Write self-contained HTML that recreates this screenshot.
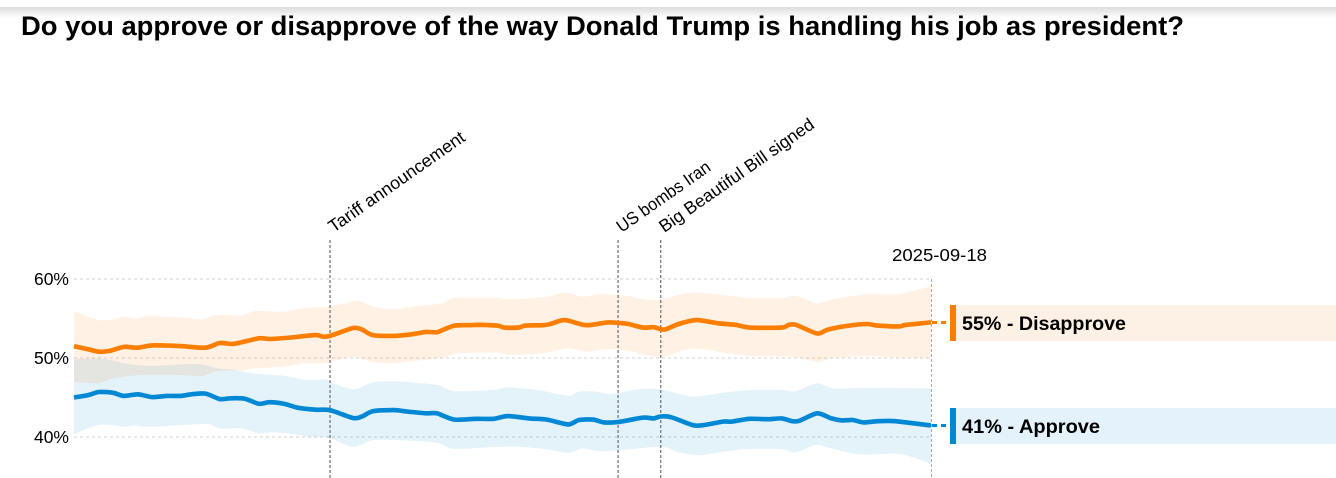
<!DOCTYPE html>
<html lang="en">
<head>
<meta charset="utf-8">
<title>Trump approval</title>
<style>
html,body{margin:0;padding:0;background:#fff;width:1336px;height:478px;overflow:hidden}
svg{display:block;font-family:"Liberation Sans",sans-serif}
</style>
</head>
<body>
<svg id="chart" width="1336" height="478" viewBox="0 0 1336 478" xmlns="http://www.w3.org/2000/svg">
<defs>
<linearGradient id="topShade" x1="0" y1="0" x2="0" y2="1">
<stop offset="0" stop-color="#dcdcdc"/>
<stop offset="1" stop-color="#ffffff"/>
</linearGradient>
</defs>
<rect x="0" y="7" width="1336" height="11" fill="url(#topShade)"/>
<text x="21" y="35" font-size="27" font-weight="700" fill="#000" textLength="1163" lengthAdjust="spacingAndGlyphs">Do you approve or disapprove of the way Donald Trump is handling his job as president?</text>
<g id="grid"></g>
<g id="bands"></g>
<g id="events"></g>
<g id="lines"></g>
<text x="892" y="261" font-size="17.5" fill="#000" textLength="95" lengthAdjust="spacingAndGlyphs">2025-09-18</text>
<rect x="956" y="305" width="380" height="36" fill="#fdf1e5"/>
<rect x="950" y="305" width="6" height="36" fill="#fb7e00"/>
<text x="962" y="330" font-size="19.5" font-weight="700" fill="#000" textLength="164" lengthAdjust="spacingAndGlyphs">55% - Disapprove</text>
<rect x="956" y="408" width="380" height="36" fill="#e4f3fb"/>
<rect x="950" y="408" width="6" height="36" fill="#0088d4"/>
<text x="962" y="433" font-size="19.5" font-weight="700" fill="#000" textLength="138" lengthAdjust="spacingAndGlyphs">41% - Approve</text>
</svg>
<script>
var tickValues = [40, 50, 60];
var tickLabels = ['40%', '50%', '60%'];
var eventDays = [72, 153, 165];
var eventLabels = ['Tariff announcement', 'US bombs Iran', 'Big Beautiful Bill signed'];
var lastDay = 241;

var disapproveDays = [0,4,7,10,14,18,22,30,37,41,45,52,55,61,68,70,72,78.5,81,84,90,95,99,102,104,107,111,114,119,121,125,127,132,134,138,144,150,154,156,160,163,166,170,175,181,186,190,199,201,203,209,212,218,223,226,232,234,241];
var disapproveValues = [51.5,51.1,50.8,50.9,51.4,51.3,51.6,51.5,51.3,51.9,51.8,52.5,52.4,52.6,52.9,52.7,52.8,53.8,53.6,52.9,52.8,53,53.3,53.25,53.6,54.1,54.15,54.2,54.1,53.85,53.85,54.1,54.15,54.3,54.8,54.15,54.5,54.4,54.3,53.85,53.9,53.6,54.3,54.8,54.4,54.2,53.85,53.85,54.2,54.2,53.1,53.6,54.1,54.3,54.1,54,54.2,54.5];

var approveDays = [0,4,7,11,14,18,22,26,30,33,37,41,44,48,52,55,59,63,68,72,78.5,81,84,90,94,99,102,107,113,118,122,128,133,139,142,146,149,153,160,163,165,168,174,177,182.5,185,190,195,199,202,204,209,213,216,219,222,226,231,241];
var approveValues = [45,45.3,45.7,45.6,45.2,45.4,45.05,45.2,45.2,45.4,45.5,44.8,44.9,44.85,44.2,44.4,44.2,43.7,43.45,43.4,42.4,42.6,43.25,43.4,43.2,43,43,42.2,42.3,42.3,42.65,42.35,42.2,41.6,42.15,42.2,41.85,41.9,42.45,42.35,42.6,42.5,41.5,41.5,41.95,41.95,42.3,42.25,42.35,42,42.05,43,42.35,42.1,42.15,41.85,42,42,41.45];

var disapproveUpperDays = [0,7,11,14,18,21,30,36,40,47,51,59,64,69,72,79,80.5,85,91,97,103.5,107,119,122,133,138,143,148,156,160,165,170,175,181,190,199,202,205,209,213,223,232,241];
var disapproveUpperValues = [55.9,54.8,54.9,55.2,55,55.3,55.15,54.9,55.45,55.35,55.95,55.85,56.3,56.4,56.5,57.2,57.2,56.4,56.2,56.6,56.9,57.6,57.6,57.4,57.75,58.3,57.75,58.05,57.85,57.4,57.4,58,58.3,58.05,57.6,57.6,57.9,57.6,56.9,57.4,58.1,58.1,59.1];

var disapproveLowerDays = [0,7,11,19,30,36,40,47,51,59,64,69,72,78.5,84,89,95,104,108,119,122,132,139,144,150,156,160,166,170,175,184,190,202,209,213,223,232,241];
var disapproveLowerValues = [47,46.8,47.4,47.85,47.85,47.7,48.35,48.4,48.7,48.9,49.3,49.3,49.5,50.15,49.5,49.3,49.6,50.05,50.6,50.7,50.4,50.6,51.25,50.8,51.1,50.9,50.4,50.15,50.8,51.2,50.6,50.25,50.15,49.5,49.95,50.25,50.05,49.95];

var approveUpperDays = [0,8,15,22,35,40,45,51,59,65.5,71,72,78.5,84,90,102,107,118,122,131,139,142,147,151,159,165,174,182.5,190,199,203,209,213.5,223,241];
var approveUpperValues = [49.85,49.9,49.25,49,49.25,48.7,48.5,48,47.75,47.2,47.3,47,46.05,46.9,47.05,46.6,45.8,45.95,46.3,45.9,45.2,45.75,45.75,45.45,46.05,46.05,45.1,45.6,45.95,45.95,45.8,46.8,46.15,46.2,46.15];

var approveLowerDays = [0,6.5,11,14,17,22,37,41,47,52,55,60,66,72,78.5,84,91,102,107,122,132,139,143,149,165,170,176,182,190,199,202,204,209,213,221,230,234,241];
var approveLowerValues = [40.35,41.5,41.5,41.3,41.45,41.3,41.65,41.05,41.1,40.45,40.6,40.45,40.05,39.85,38.75,39.6,39.6,39.3,38.5,38.8,38.5,38,38.55,38.2,38.75,38.05,37.7,38.1,38.5,38.45,38.05,38.2,39,38.55,37.8,37.9,37.7,36.65];

var SVG_NS = 'http://www.w3.org/2000/svg';
var plotLeft = 74;
var plotRight = 931;
var plotBottom = 478;
var grid = document.getElementById('grid');
var bands = document.getElementById('bands');
var events = document.getElementById('events');
var lines = document.getElementById('lines');

function xScale(day) {
  return plotLeft + day / lastDay * (plotRight - plotLeft);
}
function yScale(value) {
  return 358 - (value - 50) * 7.9;
}
function toPoints(days, values) {
  return days.map(function (d, i) {
    return [xScale(d), yScale(values[i])];
  });
}
/* Smooth curve through the points, returned as bezier segments after the first point. */
function curveSegments(p) {
  var k = 0.13;
  var out = '';
  for (var i = 0; i < p.length - 1; i++) {
    var a = p[Math.max(i - 1, 0)];
    var b = p[i];
    var c = p[i + 1];
    var d = p[Math.min(i + 2, p.length - 1)];
    out += ' C' + (b[0] + (c[0] - a[0]) * k).toFixed(1) + ' ' + (b[1] + (c[1] - a[1]) * k).toFixed(1) +
      ' ' + (c[0] - (d[0] - b[0]) * k).toFixed(1) + ' ' + (c[1] - (d[1] - b[1]) * k).toFixed(1) +
      ' ' + c[0].toFixed(1) + ' ' + c[1].toFixed(1);
  }
  return out;
}
function make(tag, attrs) {
  var el = document.createElementNS(SVG_NS, tag);
  Object.keys(attrs).forEach(function (k) { el.setAttribute(k, attrs[k]); });
  return el;
}

tickValues.forEach(function (v, i) {
  var rule = make('line', {x1: plotLeft, x2: plotRight, y1: yScale(v), y2: yScale(v), stroke: '#cfcfcf', 'stroke-width': 1, 'stroke-dasharray': '3 3'});
  
  
  grid.appendChild(rule);
  var label = make('text', {x: 69, y: yScale(v) + 6, 'text-anchor': 'end', 'font-size': 17.5, fill: '#000'});
  
  
  label.textContent = tickLabels[i];
  grid.appendChild(label);
});

var endRule = make('line', {x1: plotRight + 0.5, x2: plotRight + 0.5, y1: 279, y2: plotBottom, stroke: '#a8a8a8', 'stroke-width': 1, 'stroke-dasharray': '3 2'});


grid.appendChild(endRule);

function addBand(name, color, opacity, upDays, upValues, lowDays, lowValues) {
  var top = toPoints(upDays, upValues);
  var bottom = toPoints(lowDays, lowValues).reverse();
  var d = 'M' + top[0][0].toFixed(1) + ' ' + top[0][1].toFixed(1) + curveSegments(top) +
    ' L' + bottom[0][0].toFixed(1) + ' ' + bottom[0][1].toFixed(1) + curveSegments(bottom) + ' Z';
  var band = make('path', {d: d, fill: color, 'fill-opacity': opacity});
  
  
  bands.appendChild(band);
}
addBand('disapprove-band', '#ff7f00', 0.11, disapproveUpperDays, disapproveUpperValues, disapproveLowerDays, disapproveLowerValues);
addBand('approve-band', '#0088d4', 0.105, approveUpperDays, approveUpperValues, approveLowerDays, approveLowerValues);

var labelStretch = [1.025, 0.945, 1.01];
eventDays.forEach(function (d, i) {
  var x = xScale(d);
  var rule = make('line', {x1: x, x2: x, y1: 240, y2: plotBottom, stroke: '#6b6b75', 'stroke-width': 1.2, 'stroke-dasharray': '3 2'});
  
  
  events.appendChild(rule);
  var label = make('text', {x: x + 3.5, y: 233, 'font-size': 17.5, fill: '#000', transform: 'rotate(-35 ' + (x + 3.5) + ' 233)'});
  
  
  label.textContent = eventLabels[i];
  events.appendChild(label);
  label.setAttribute('textLength', (label.getComputedTextLength() * labelStretch[i]).toFixed(1));
  label.setAttribute('lengthAdjust', 'spacingAndGlyphs');
});

function addLine(name, color, days, values) {
  var p = toPoints(days, values);
  var d = 'M' + p[0][0].toFixed(1) + ' ' + p[0][1].toFixed(1) + curveSegments(p);
  var path = make('path', {d: d, fill: 'none', stroke: color, 'stroke-width': 4.6, 'stroke-linejoin': 'round', 'stroke-linecap': 'butt'});
  
  
  lines.appendChild(path);
  var lastY = yScale(values[values.length - 1]);
  var link = make('line', {x1: plotRight + 1, x2: 948, y1: lastY, y2: lastY, stroke: color, 'stroke-width': 3, 'stroke-dasharray': '5 4'});
  
  
  lines.appendChild(link);
}
addLine('disapprove', '#fb7e00', disapproveDays, disapproveValues);
addLine('approve', '#0088d4', approveDays, approveValues);
</script>
</body>
</html>
